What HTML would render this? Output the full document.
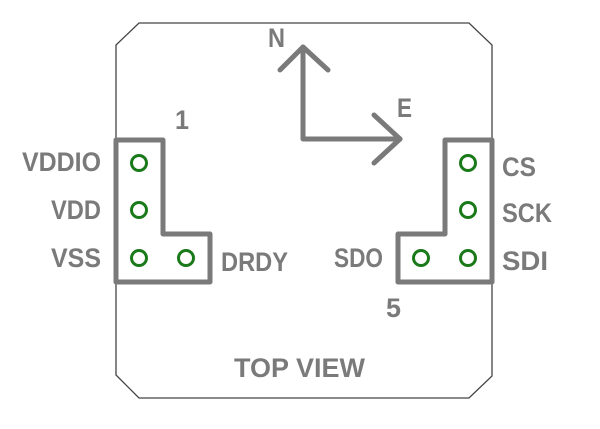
<!DOCTYPE html>
<html><head><meta charset="utf-8"><style>
html,body{margin:0;padding:0;background:#fff;}
svg{display:block;}
text{font-family:"Liberation Sans",sans-serif;font-weight:bold;fill:#7a7a7a;font-size:27px;}
</style></head><body>
<svg width="600" height="429" viewBox="0 0 600 429" xmlns="http://www.w3.org/2000/svg">
<polygon points="139,23 469,23 492,45 492,376 469,398 139,398 116,375 116,45" fill="none" stroke="#444" stroke-width="1.3"/>
<g fill="none" stroke="#7a7a7a" stroke-width="5" stroke-linecap="round" stroke-linejoin="round">
<polygon points="116,140 163,140 163,234 210,234 210,282 116,282"/>
<polygon points="445,140 492,140 492,282 398,282 398,234 445,234"/>
<polyline points="303,47 303,139 400,139"/>
<polyline points="280,70 303,47 328,70"/>
<polyline points="374,115 400,139 374,163"/>
</g>
<g fill="none" stroke="#1a7a1a" stroke-width="3">
<circle cx="139" cy="163" r="7.5"/><circle cx="139" cy="210" r="7.5"/><circle cx="139" cy="258" r="7.5"/><circle cx="186" cy="258" r="7.5"/>
<circle cx="468" cy="163" r="7.5"/><circle cx="468" cy="210" r="7.5"/><circle cx="468" cy="258" r="7.5"/><circle cx="421" cy="258" r="7.5"/>
</g>
<text x="22" y="171" textLength="79" lengthAdjust="spacingAndGlyphs">VDDIO</text>
<text x="51" y="219" textLength="50" lengthAdjust="spacingAndGlyphs">VDD</text>
<text x="51" y="267" textLength="50" lengthAdjust="spacingAndGlyphs">VSS</text>
<text x="221" y="271" textLength="67" lengthAdjust="spacingAndGlyphs">DRDY</text>
<text x="502" y="176" textLength="34" lengthAdjust="spacingAndGlyphs">CS</text>
<text x="502" y="222" textLength="50" lengthAdjust="spacingAndGlyphs">SCK</text>
<text x="502" y="270" textLength="46" lengthAdjust="spacingAndGlyphs">SDI</text>
<text x="334" y="267" textLength="49" lengthAdjust="spacingAndGlyphs">SDO</text>
<text x="175" y="129" textLength="14" lengthAdjust="spacingAndGlyphs">1</text>
<text x="386" y="317" textLength="15" lengthAdjust="spacingAndGlyphs">5</text>
<text x="268" y="47" textLength="17" lengthAdjust="spacingAndGlyphs">N</text>
<text x="397" y="117" textLength="15" lengthAdjust="spacingAndGlyphs">E</text>
<text x="234" y="377" textLength="131" lengthAdjust="spacingAndGlyphs">TOP VIEW</text>
</svg>
</body></html>
